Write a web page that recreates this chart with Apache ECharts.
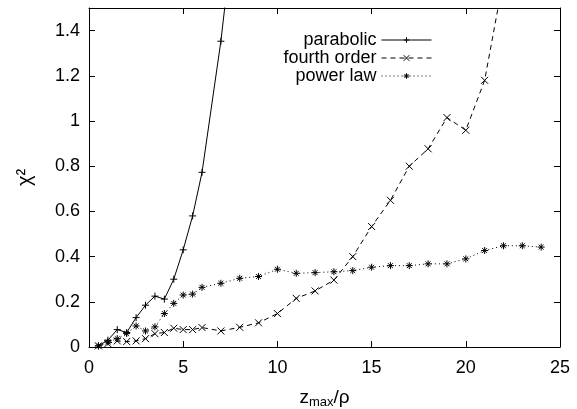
<!DOCTYPE html>
<html>
<head>
<meta charset="utf-8">
<script src="https://cdn.jsdelivr.net/npm/echarts@6/dist/echarts.min.js"></script>
<style>
  html, body { margin: 0; padding: 0; background: #fff; }
  #chart { width: 577px; height: 409px; }
</style>
</head>
<body>
<div id="chart"></div>
<script>
// data
const parabolicX = [0.5, 1, 1.5, 2, 2.5, 3, 3.5, 4, 4.5, 5, 5.5, 6, 7, 8]
const parabolicY = [0.005, 0.03, 0.077, 0.064, 0.13, 0.185, 0.225, 0.212, 0.30, 0.43, 0.58, 0.773, 1.353, 2.08]

const fourthX = [0.5, 1, 1.5, 2, 2.5, 3, 3.5, 4, 4.5, 5, 5.5, 6, 7, 8, 9, 10, 11, 12, 13, 14, 15, 16, 17, 18, 19, 20, 21, 22]
const fourthY = [0.005, 0.015, 0.027, 0.024, 0.027, 0.037, 0.059, 0.064, 0.083, 0.077, 0.077, 0.086, 0.071, 0.087, 0.107, 0.148, 0.215, 0.248, 0.296, 0.40, 0.533, 0.649, 0.80, 0.877, 1.015, 0.959, 1.18, 1.63]

const powerX = [0.5, 1, 1.5, 2, 2.5, 3, 3.5, 4, 4.5, 5, 5.5, 6, 7, 8, 9, 10, 11, 12, 13, 14, 15, 16, 17, 18, 19, 20, 21, 22, 23, 24]
const powerY = [0.005, 0.022, 0.037, 0.06, 0.093, 0.071, 0.089, 0.148, 0.193, 0.23, 0.234, 0.264, 0.282, 0.304, 0.312, 0.344, 0.326, 0.329, 0.333, 0.338, 0.353, 0.36, 0.36, 0.368, 0.368, 0.39, 0.427, 0.448, 0.448, 0.442]

const xTicks = { min: 0, max: 25, interval: 5 }
const yTicks = { min: 0, max: 1.5, interval: 0.2 }

const font = 'Liberation Sans, Arial, Helvetica, sans-serif'

const zip = (xs, ys) => xs.map((x, i) => [x, ys[i]])

const symPlus = 'path://M0,5L10,5M5,0L5,10'
const symCross = 'path://M0,0L10,10M10,0L0,10'
const symStar = 'path://M0,5L10,5M5,0L5,10M1.5,1.5L8.5,8.5M8.5,1.5L1.5,8.5'

function lineSeries(name, data, symbol, dash) {
  return {
    name,
    type: 'line',
    data,
    symbol,
    symbolSize: 7,
    showAllSymbol: true,
    clip: true,
    lineStyle: { color: '#000', width: 1, type: dash },
    itemStyle: { color: '#000', borderColor: '#000', borderWidth: 1 }
  }
}

const mainAxisLine = { show: true, onZero: false, lineStyle: { color: '#000', width: 1 } }
const tickIn = { show: true, inside: true, length: 6, lineStyle: { color: '#000' } }

const chart = echarts.init(document.getElementById('chart'))
chart.setOption({
  animation: false,
  textStyle: { fontFamily: font },
  grid: { left: 89, right: 17, top: 8, bottom: 62, outerBoundsMode: 'none' },
  legend: {
    right: 140,
    top: 26,
    orient: 'vertical',
    align: 'right',
    itemWidth: 50,
    itemHeight: 7,
    itemGap: 0,
    lineStyle: { width: 1 },
    itemStyle: { borderWidth: 1 },
    textStyle: { color: '#000', fontSize: 18, lineHeight: 14, fontFamily: font },
    data: ['parabolic', 'fourth order', 'power law']
  },
  xAxis: [
    {
      type: 'value',
      ...xTicks,
      name: '{a|z}{b|max}{a|/ρ}',
      nameLocation: 'middle',
      nameGap: 39,
      nameTextStyle: {
        rich: {
          a: { fontSize: 19, fontFamily: font, color: '#000' },
          b: { fontSize: 13, fontFamily: font, color: '#000', padding: [10, 0, 0, 0] }
        }
      },
      axisLine: mainAxisLine,
      axisTick: tickIn,
      axisLabel: { color: '#000', fontSize: 18, margin: 12 },
      splitLine: { show: false }
    },
    {
      type: 'value',
      ...xTicks,
      position: 'top',
      axisLine: mainAxisLine,
      axisTick: tickIn,
      axisLabel: { show: false },
      splitLine: { show: false }
    }
  ],
  yAxis: [
    {
      type: 'value',
      ...yTicks,
      name: 'χ²',
      nameLocation: 'middle',
      nameRotate: 90,
      nameGap: 54,
      nameTextStyle: { color: '#000', fontSize: 20, fontFamily: font },
      axisLine: mainAxisLine,
      axisTick: tickIn,
      axisLabel: { color: '#000', fontSize: 18, margin: 9, showMaxLabel: false },
      splitLine: { show: false }
    },
    {
      type: 'value',
      ...yTicks,
      position: 'right',
      axisLine: mainAxisLine,
      axisTick: tickIn,
      axisLabel: { show: false },
      splitLine: { show: false }
    }
  ],
  series: [
    lineSeries('parabolic', zip(parabolicX, parabolicY), symPlus, 'solid'),
    lineSeries('fourth order', zip(fourthX, fourthY), symCross, [5, 4]),
    lineSeries('power law', zip(powerX, powerY), symStar, [1, 3])
  ]
})
</script>
</body>
</html>
